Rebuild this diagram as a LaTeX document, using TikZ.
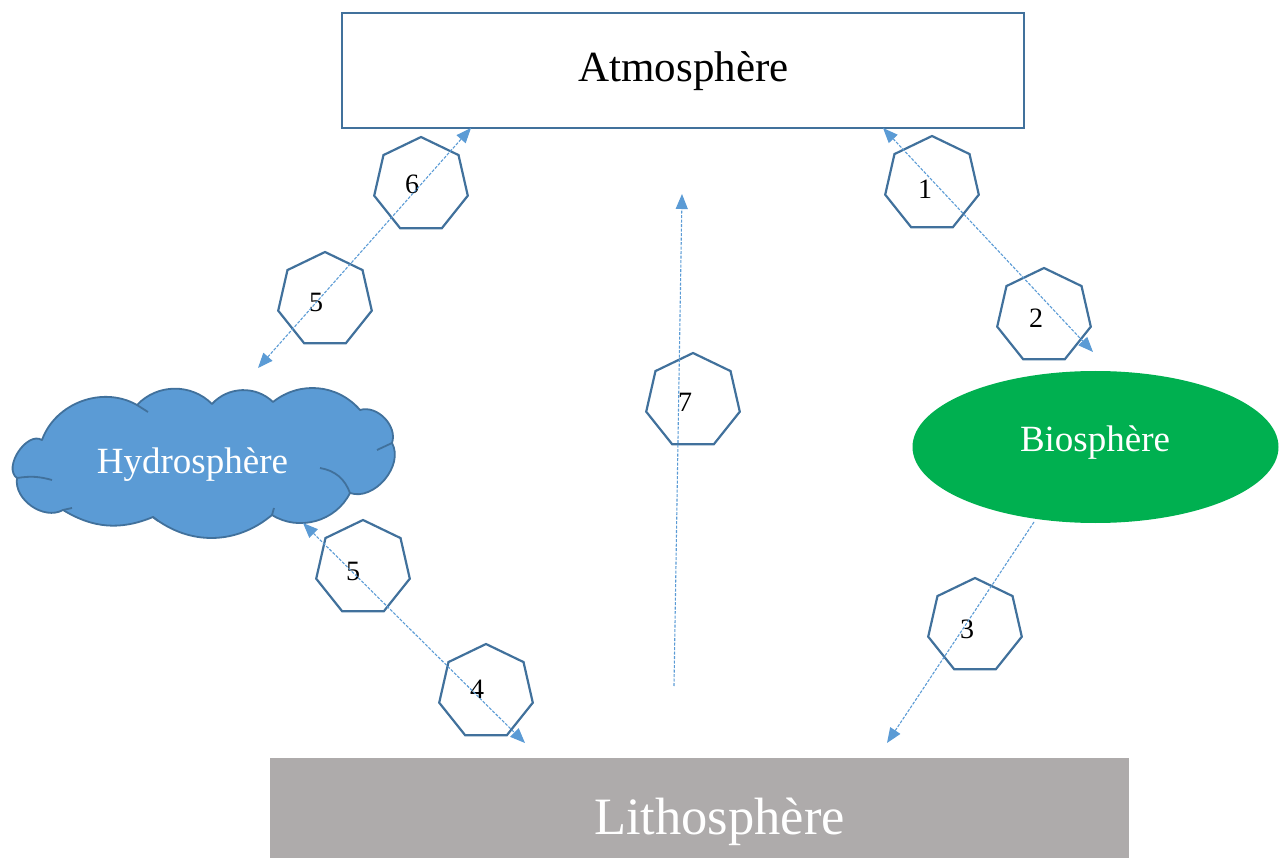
\documentclass[tikz,border=0pt]{standalone}
\usepackage{fontspec}
\setmainfont{Liberation Serif}
\usetikzlibrary{shapes.geometric,arrows.meta}
\definecolor{outl}{HTML}{41719C}
\definecolor{arr}{HTML}{5B9BD5}
\definecolor{hyd}{HTML}{5B9BD5}
\definecolor{bio}{HTML}{00B050}
\definecolor{lith}{HTML}{AEABAB}
\begin{document}
\begin{tikzpicture}[x=1pt,y=-1pt,
  hept/.style={regular polygon, regular polygon sides=7, minimum size=96pt, inner sep=0pt, draw=outl, line width=2.2pt},
  num/.style={font=\fontsize{28}{28}\selectfont, inner sep=0pt, anchor=base},
  >={Triangle[length=15pt,width=12pt]},
  flow/.style={draw=arr, line width=1.1pt, dash pattern=on 3pt off 1.5pt},
  big/.style={font=\fontsize{#1}{#1}\selectfont, inner sep=0pt, anchor=base},
  cloudline/.style={draw=outl, line width=1.8pt, line join=round}
]
\useasboundingbox (0,0) rectangle (1280,858);
% Atmosphere
\node[draw=outl, line width=2pt, minimum width=682pt, minimum height=115pt, inner sep=0pt] (atmo) at (683,70.5) {};
\node[big=43] (atmotxt) at (683.5,82) {Atmosphère};
% Lithosphere
\node[fill=lith, minimum width=859pt, minimum height=100pt, inner sep=0pt] (litho) at (699.5,808) {};
\node[big=52.5, text=white] (lithotxt) at (719.5,834) {Lithosphère};
% Hydrosphere cloud
\path[fill=hyd, cloudline]
  (17,478) to[bend left=88] (42,440) to[bend left=50] (137,405)
  to[bend left=46] (212,404) to[bend left=46] (273,402)
  to[bend left=44] (360,410) to[bend left=63] (392,443)
  to[bend left=69] (350,493) to[bend left=48] (272,515)
  to[bend left=39] (153,517) to[bend left=27] (63,510)
  to[bend left=64] (17,478) -- cycle;
\draw[cloudline] (17,478) to[bend left=12] (52,480);
\draw[cloudline] (320,468) to[bend left=30] (350,493);
\draw[cloudline] (137,405) -- (148,412);
\draw[cloudline] (377,450) -- (392,443);
\draw[cloudline] (272,515) -- (274,508);
\draw[cloudline] (153,517) -- (158,521);
\draw[cloudline] (63,510) -- (72,508);
\node[big=37, text=white] (hydro) at (192.5,473) {Hydrosphère};
% Biosphere
\node[ellipse, fill=bio, minimum width=366pt, minimum height=152pt, inner sep=0pt] (bio) at (1095.5,447) {};
\node[big=37, text=white] (biotxt) at (1095,452) {Biosphère};
% heptagons
\node[hept] (h6) at (421,185) {};
\node[hept] (h5a) at (325,300) {};
\node[hept] (h1) at (932,184) {};
\node[hept] (h2) at (1044,316) {};
\node[hept] (h5b) at (363,568) {};
\node[hept] (h4) at (486,692) {};
\node[hept] (h3) at (975,626) {};
\node[hept] (h7) at (693,401) {};
\node[num] (n6) at (412,194) {6};
\node[num] (n5a) at (316,312) {5};
\node[num] (n1) at (925,199) {1};
\node[num] (n2) at (1036,328) {2};
\node[num] (n5b) at (353,580) {5};
\node[num] (n4) at (477,698) {4};
\node[num] (n3) at (967,638) {3};
\node[num] (n7) at (685,412) {7};
% arrow ends
\coordinate (a65) at (258,368);
\coordinate (a6t) at (471,128);
\coordinate (a1t) at (883,128);
\coordinate (a2b) at (1093,352);
\coordinate (a5t) at (303,523);
\coordinate (a4b) at (525,743);
\coordinate (a3s) at (1034,522);
\coordinate (a3e) at (887,743);
\coordinate (a7s) at (674,686);
\coordinate (a7e) at (682,194);
\draw[flow, <->] (a65) -- (a6t);
\draw[flow, <->] (a1t) -- (a2b);
\draw[flow, <->] (a5t) -- (a4b);
\draw[flow, ->] (a3s) -- (a3e);
\draw[flow, ->] (a7s) -- (a7e);
\end{tikzpicture}
\end{document}
